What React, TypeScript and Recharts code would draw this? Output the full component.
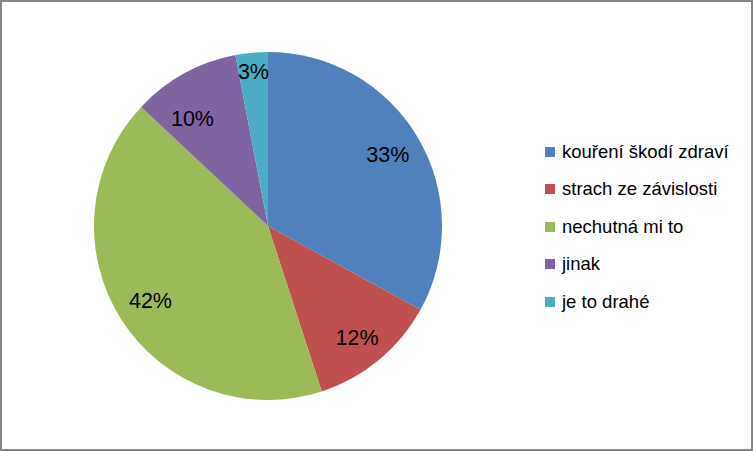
import { PieChart, Pie, Cell, Legend } from 'recharts';

const CATEGORIES = ['kouření škodí zdraví', 'strach ze závislosti', 'nechutná mi to', 'jinak', 'je to drahé'];
const VALUES = [33, 12, 42, 10, 3];
const COLORS = ['#4F81BD', '#C0504D', '#9BBB59', '#8064A2', '#4BACC6'];

// Excel "best fit" label placement: radius factor and angle nudge per slice
const LABEL_RADIUS = [0.8, 0.82, 0.8, 0.755, 0.89];
const LABEL_ANGLE_NUDGE = [0, -1, 0, 6.3, 0];

const data = CATEGORIES.map((name, i) => ({ name, value: VALUES[i] }));

const RADIAN = Math.PI / 180;

const renderLabel = ({ cx, cy, midAngle, outerRadius, value, index }: any) => {
  const r = outerRadius * LABEL_RADIUS[index];
  const a = (midAngle + LABEL_ANGLE_NUDGE[index]) * RADIAN;
  const x = cx + r * Math.cos(-a);
  const y = cy + r * Math.sin(-a);
  return (
    <text
      x={x}
      y={y}
      fill="#000"
      textAnchor="middle"
      dominantBaseline="central"
      fontSize={21.5}
      fontFamily="Liberation Sans, Arial, sans-serif"
    >
      {`${value}%`}
    </text>
  );
};

const LegendContent = () => (
  <div style={{ fontFamily: 'Liberation Sans, Arial, sans-serif', fontSize: 18.5, color: '#000' }}>
    {data.map((d, i) => (
      <div key={d.name} style={{ display: 'flex', alignItems: 'center', height: 37.5 }}>
        <div style={{ width: 10, height: 10, background: COLORS[i], marginRight: 7 }} />
        <span>{d.name}</span>
      </div>
    ))}
  </div>
);

export default function App() {
  return (
    <div
      style={{
        position: 'absolute',
        left: 0,
        top: 0,
        width: 753,
        height: 451,
        boxSizing: 'border-box',
        border: '2px solid #858585',
        background: '#fff',
      }}
    >
      <div style={{ position: 'absolute', left: -2, top: -2 }}>
        <PieChart width={753} height={451} margin={{ top: 0, right: 0, bottom: 0, left: 0 }}>
          <Pie
            data={data}
            dataKey="value"
            nameKey="name"
            cx={268}
            cy={226}
            outerRadius={174}
            startAngle={90}
            endAngle={-270}
            stroke="none"
            label={renderLabel}
            labelLine={false}
            isAnimationActive={false}
          >
            {data.map((d, i) => (
              <Cell key={d.name} fill={COLORS[i]} />
            ))}
          </Pie>
          <Legend
            content={<LegendContent />}
            wrapperStyle={{ position: 'absolute', left: 545, top: 133, width: 205 }}
          />
        </PieChart>
      </div>
    </div>
  );
}
